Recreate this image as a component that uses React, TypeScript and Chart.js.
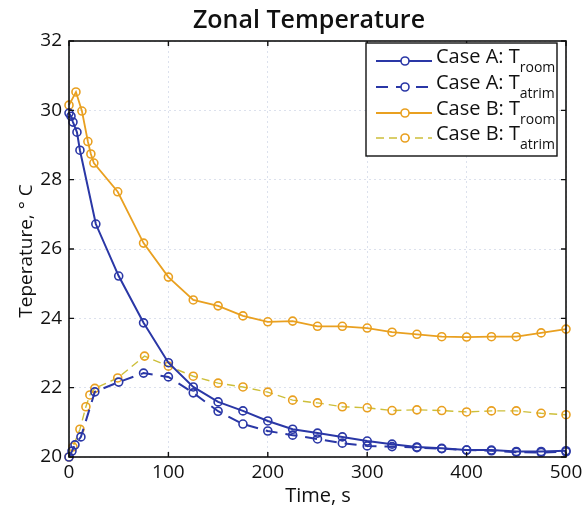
import React, { useEffect, useRef } from "react";
import Chart from "chart.js/auto";

const FONT = '"Open Sans", "Noto Sans", sans-serif';

const titleText = "Zonal Temperature";
const xTitle = "Time, s";
const yTitle = "Teperature, \u00B0 C";

const xTicks = [0, 100, 200, 300, 400, 500];
const yTicks = [20, 22, 24, 26, 28, 30, 32];

const legendMain = ["Case A: T", "Case A: T", "Case B: T", "Case B: T"];
const legendSub = ["room", "atrim", "room", "atrim"];

const timeARoom = [0, 2, 4, 8, 11, 27, 50, 75, 100, 125, 150, 175, 200, 225, 250, 275, 300, 325, 350, 375, 400, 425, 450, 475, 500];
const tempARoom = [29.92, 29.83, 29.66, 29.37, 28.85, 26.72, 25.22, 23.87, 22.72, 22.02, 21.59, 21.33, 21.04, 20.8, 20.69, 20.58, 20.46, 20.37, 20.29, 20.25, 20.2, 20.2, 20.16, 20.16, 20.18];

const timeAAtrim = [0, 3, 6, 12, 26, 50, 75, 100, 125, 150, 175, 200, 225, 250, 275, 300, 325, 350, 375, 400, 425, 450, 475, 500];
const tempAAtrim = [20.0, 20.17, 20.35, 20.58, 21.88, 22.16, 22.42, 22.31, 21.85, 21.32, 20.95, 20.75, 20.63, 20.52, 20.4, 20.32, 20.3, 20.27, 20.24, 20.2, 20.18, 20.14, 20.13, 20.15];

const timeBRoom = [0, 7, 13, 19, 22, 25, 49, 75, 100, 125, 150, 175, 200, 225, 250, 275, 300, 325, 350, 375, 400, 425, 450, 475, 500];
const tempBRoom = [30.15, 30.53, 29.98, 29.1, 28.74, 28.48, 27.65, 26.17, 25.19, 24.53, 24.36, 24.07, 23.9, 23.92, 23.77, 23.77, 23.72, 23.6, 23.54, 23.47, 23.46, 23.47, 23.47, 23.58, 23.69];

const timeBAtrim = [0, 4, 11, 17, 21, 26, 49, 76, 100, 125, 150, 175, 200, 225, 250, 275, 300, 325, 350, 375, 400, 425, 450, 475, 500];
const tempBAtrim = [20.0, 20.29, 20.8, 21.45, 21.79, 21.98, 22.28, 22.91, 22.62, 22.33, 22.13, 22.02, 21.87, 21.64, 21.56, 21.45, 21.42, 21.34, 21.36, 21.34, 21.3, 21.33, 21.33, 21.26, 21.22];

const BLUE = "#2a37a6";
const ORANGE = "#e9a020";
const YELLOWISH = "#cdbf3a";

const toXY = (xs: number[], ys: number[]) => xs.map((x, i) => ({ x, y: ys[i] }));

const decorPlugin = {
  id: "decor",
  afterDraw(chart: any) {
    const { ctx, chartArea, scales } = chart;
    const { left, right, top, bottom } = chartArea;
    ctx.save();
    // box
    ctx.strokeStyle = "#111";
    ctx.lineWidth = 1.6;
    ctx.setLineDash([]);
    ctx.strokeRect(left, top, right - left, bottom - top);
    // inner ticks
    ctx.lineWidth = 1.4;
    const tl = 5;
    xTicks.forEach((v) => {
      const px = scales.x.getPixelForValue(v);
      ctx.beginPath();
      ctx.moveTo(px, bottom);
      ctx.lineTo(px, bottom - tl);
      ctx.moveTo(px, top);
      ctx.lineTo(px, top + tl);
      ctx.stroke();
    });
    yTicks.forEach((v) => {
      const py = scales.y.getPixelForValue(v);
      ctx.beginPath();
      ctx.moveTo(left, py);
      ctx.lineTo(left + tl, py);
      ctx.moveTo(right, py);
      ctx.lineTo(right - tl, py);
      ctx.stroke();
    });
    // title
    ctx.fillStyle = "#111";
    ctx.textAlign = "center";
    ctx.textBaseline = "alphabetic";
    ctx.font = `600 25px ${FONT}`;
    ctx.fillText(titleText, 309, 28);
    // x title
    ctx.font = `20px ${FONT}`;
    ctx.fillText(xTitle, 318, 502);
    // y title
    ctx.save();
    ctx.translate(32, 251);
    ctx.rotate(-Math.PI / 2);
    ctx.font = `19px ${FONT}`;
    ctx.fillText(yTitle, 0, 0);
    ctx.restore();

    // legend
    const lx = 366, ly = 43, lw = 191, lh = 113;
    ctx.fillStyle = "#fff";
    ctx.fillRect(lx, ly, lw, lh);
    ctx.strokeStyle = "#111";
    ctx.lineWidth = 1.4;
    ctx.strokeRect(lx, ly, lw, lh);
    const rows = [61, 87, 113, 138];
    chart.data.datasets.forEach((ds: any, i: number) => {
      const y = rows[i];
      ctx.strokeStyle = ds.borderColor;
      ctx.lineWidth = ds.borderWidth;
      ctx.setLineDash(ds.borderDash || []);
      ctx.beginPath();
      ctx.moveTo(376, y);
      ctx.lineTo(432, y);
      ctx.stroke();
      ctx.setLineDash([]);
      ctx.strokeStyle = ds.pointBorderColor;
      ctx.lineWidth = ds.pointBorderWidth;
      ctx.fillStyle = "#fff";
      ctx.beginPath();
      ctx.arc(405, y, ds.pointRadius, 0, Math.PI * 2);
      ctx.fill();
      ctx.stroke();
      ctx.fillStyle = "#111";
      ctx.textAlign = "left";
      ctx.font = `20px ${FONT}`;
      ctx.fillText(legendMain[i], 436, y + 2);
      const w = ctx.measureText(legendMain[i]).width;
      ctx.font = `14px ${FONT}`;
      ctx.fillText(legendSub[i], 436 + w, y + 11);
    });
    ctx.restore();
  },
};

export default function App() {
  const ref = useRef<HTMLCanvasElement | null>(null);
  useEffect(() => {
    if (!ref.current) return;
    const common = {
      pointRadius: 4,
      pointBorderWidth: 1.6,
      pointBackgroundColor: "rgba(0,0,0,0)",
      pointStyle: "circle",
      tension: 0,
      clip: false,
      fill: false,
    };
    const chart = new Chart(ref.current, {
      type: "line",
      data: {
        datasets: [
          { ...common, label: "Case A: Troom", data: toXY(timeARoom, tempARoom), borderColor: BLUE, pointBorderColor: BLUE, borderWidth: 2 },
          { ...common, label: "Case A: Tatrim", data: toXY(timeAAtrim, tempAAtrim), borderColor: BLUE, pointBorderColor: BLUE, borderWidth: 2, borderDash: [12, 8] },
          { ...common, label: "Case B: Troom", data: toXY(timeBRoom, tempBRoom), borderColor: ORANGE, pointBorderColor: ORANGE, borderWidth: 1.8 },
          { ...common, label: "Case B: Tatrim", data: toXY(timeBAtrim, tempBAtrim), borderColor: YELLOWISH, pointBorderColor: ORANGE, borderWidth: 1.4, borderDash: [8, 5] },
        ],
      },
      options: {
        animation: false,
        responsive: true,
        maintainAspectRatio: false,
        layout: { padding: { left: 0, top: 41, right: 21, bottom: 0 } },
        plugins: { legend: { display: false }, title: { display: false }, tooltip: { enabled: false } },
        scales: {
          x: {
            type: "linear",
            min: 0,
            max: 500,
            afterFit: (s: any) => { s.height = 55; },
            afterBuildTicks: (s: any) => { s.ticks = xTicks.map((v) => ({ value: v })); },
            ticks: { color: "#111", font: { family: FONT, size: 19 }, padding: 4, maxRotation: 0 },
            grid: { color: "rgba(185,195,220,0.5)", lineWidth: 1, drawTicks: false },
            border: { display: false, dash: [2, 3] },
          },
          y: {
            type: "linear",
            min: 20,
            max: 32,
            afterFit: (s: any) => { s.width = 69; },
            afterBuildTicks: (s: any) => { s.ticks = yTicks.map((v) => ({ value: v })); },
            ticks: { color: "#111", font: { family: FONT, size: 19 }, padding: 7 },
            grid: { color: "rgba(185,195,220,0.5)", lineWidth: 1, drawTicks: false },
            border: { display: false, dash: [2, 3] },
          },
        },
      },
      plugins: [decorPlugin],
    } as any);
    return () => chart.destroy();
  }, []);
  return (
    <div style={{ position: "fixed", left: 0, top: 0, width: 587, height: 512, background: "#fff" }}>
      <canvas ref={ref} />
    </div>
  );
}
